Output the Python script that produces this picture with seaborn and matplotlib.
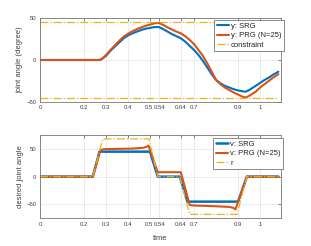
import numpy as np
import pandas as pd
import matplotlib
matplotlib.use("Agg")
import matplotlib.pyplot as plt
import matplotlib.transforms as mtransforms
import seaborn as sns

# ---- data ----
t_y = [0.0, 0.26, 0.27, 0.28, 0.30, 0.32, 0.34, 0.36, 0.38, 0.40, 0.42, 0.44, 0.46, 0.48,
       0.50, 0.52, 0.54, 0.56, 0.58, 0.60, 0.62, 0.64, 0.66, 0.68, 0.70, 0.72, 0.74, 0.76,
       0.78, 0.80, 0.82, 0.84, 0.86, 0.88, 0.90, 0.92, 0.935, 0.95, 0.98, 1.00, 1.02, 1.04,
       1.06, 1.083]
y_srg = [0, 0, 0, 1, 5, 11, 16, 21, 26, 29.5, 32, 34, 36, 37.5,
         38.5, 39.5, 39.5, 37, 34, 31, 28.5, 26, 22, 17, 12, 6, -1, -9,
         -17, -24, -28, -31, -33, -35, -36.5, -37.5, -38, -36, -31, -27.5, -24, -21,
         -17.5, -14]
y_prg = [0, 0, 0, 1, 6, 12, 17.5, 23, 28, 31.5, 34.5, 37, 39, 41,
         42.5, 44, 44.5, 42, 39, 36.5, 34, 32, 28.5, 24, 19, 12, 5, -4,
         -14, -24, -29, -33, -36, -39, -41.5, -44, -45, -43, -38, -33, -29, -25,
         -21, -17]
t_con = [0.0, 1.083]
con_hi = [45, 45]
con_lo = [-45, -45]

t_r = [0.0, 0.24, 0.285, 0.495, 0.535, 0.635, 0.68, 0.895, 0.94, 1.083]
r = [0, 0, 68, 68, 0, 0, -68, -68, 0, 0]
t_vs = [0.0, 0.24, 0.27, 0.50, 0.535, 0.635, 0.67, 0.90, 0.94, 1.083]
v_srg = [0, 0, 45, 45, 0, 0, -45, -45, 0, 0]
t_vp = [0.0, 0.24, 0.275, 0.29, 0.35, 0.42, 0.47, 0.485, 0.493, 0.535, 0.64, 0.68,
        0.70, 0.78, 0.86, 0.878, 0.888, 0.94, 1.083]
v_prg = [0, 0, 48, 49.5, 50, 50.5, 52, 54, 56, 8, 8, -51,
         -52, -53, -54.5, -56, -59, 0, 0]

xticks = [0, 0.2, 0.3, 0.4, 0.5, 0.54, 0.64, 0.7, 0.9, 1]
xticklabels = ["0", "0.2", "0.3", "0.4", "0.5", "0.54", "0.64", "0.7", "0.9", "1"]

BLUE = "#0072BD"
ORANGE = "#D95319"
YELLOW = "#EDB120"

sns.set_style("white")
plt.rcParams["font.family"] = ["Liberation Sans", "DejaVu Sans"]
plt.rcParams["font.size"] = 5.5

fig = plt.figure(figsize=(3.11, 2.46), dpi=100)
ax1 = fig.add_axes([40/311, 1-101.7/246, 241/311, 83.4/246])
ax2 = fig.add_axes([40/311, 1-218.3/246, 241/311, 83.3/246])

def line(ax, x, y, **kw):
    df = pd.DataFrame({"x": x, "y": y})
    sns.lineplot(data=df, x="x", y="y", ax=ax, sort=False, estimator=None, **kw)

line(ax1, t_y, y_srg, color=BLUE, lw=1.5, label="y: SRG")
line(ax1, t_y, y_prg, color=ORANGE, lw=1.5, label="y: PRG (N=25)")
line(ax1, t_con, con_hi, color=YELLOW, lw=0.9, ls="-.", label="constraint")
line(ax1, t_con, con_lo, color=YELLOW, lw=0.9, ls="-.")

line(ax2, t_vs, v_srg, color=BLUE, lw=1.8, label="v: SRG")
line(ax2, t_vp, v_prg, color=ORANGE, lw=1.5, label="v: PRG (N=25)")
line(ax2, t_r, r, color=YELLOW, lw=0.9, ls="-.", label="r")

TXT = "#404040"
for ax in (ax1, ax2):
    ax.set_xlim(0, 1.095)
    ax.set_xticks(xticks)
    ax.set_xticklabels(xticklabels)
    ax.grid(True, color="#e3e3e3", lw=0.5)
    ax.set_axisbelow(True)
    ax.tick_params(direction="in", length=2, width=0.5, colors="#555555",
                   labelcolor=TXT, labelsize=4.3, pad=2.5, top=True, right=True)
    for s in ax.spines.values():
        s.set_color("#777777")
        s.set_linewidth(0.6)
    ax.set_xlabel("")
    labs = ax.get_xticklabels()
    for lab, dx in ((labs[4], -1.2), (labs[5], 1.2)):
        lab.set_transform(lab.get_transform() +
                          mtransforms.ScaledTranslation(dx/100, 0, fig.dpi_scale_trans))

ax1.set_ylim(-50, 50)
ax1.set_yticks([-50, 0, 50])
ax1.set_ylabel("joint angle (degree)", color=TXT, fontsize=5.5, labelpad=2)
ax2.set_ylim(-75, 75)
ax2.set_yticks([-50, 0, 50])
ax2.set_ylabel("desired joint angle", color=TXT, fontsize=5.5, labelpad=2)
ax2.set_xlabel("time", color=TXT, fontsize=5.5, labelpad=6)

for ax, anchor in ((ax1, (1.012, 0.98)), (ax2, (1.008, 0.964))):
    leg = ax.legend(loc="upper right", bbox_to_anchor=anchor, borderaxespad=0,
                    fontsize=5.5, handlelength=1.6, labelspacing=0.3,
                    handletextpad=0.3, borderpad=0.3, fancybox=False,
                    framealpha=1, edgecolor="#777777")
    leg.get_frame().set_linewidth(0.6)
    for t in leg.get_texts():
        t.set_color("#222222")

fig.savefig("out.png", dpi=100)
